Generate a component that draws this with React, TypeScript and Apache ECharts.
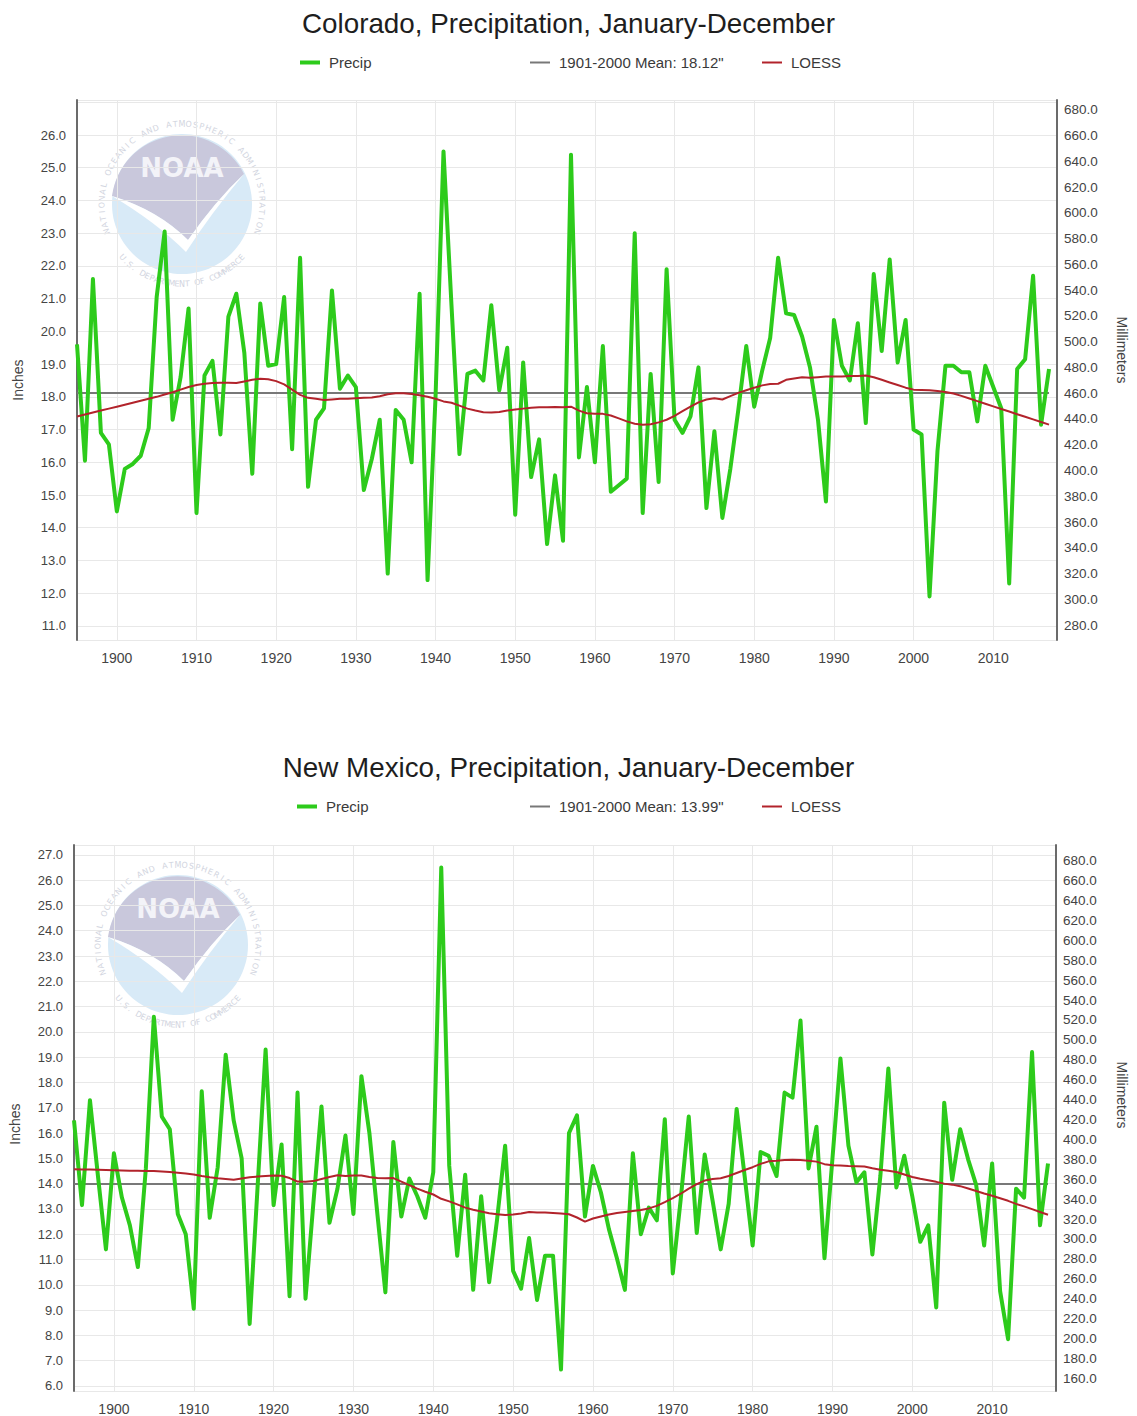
import React, { useEffect, useRef } from "react";
import * as echarts from "echarts";

// ---------- data ----------
const FIRST_YEAR = 1895;
const LAST_YEAR = 2017;
const years: number[] = [];
for (let y = FIRST_YEAR; y <= LAST_YEAR; y++) years.push(y);

const coTitle = "Colorado, Precipitation, January-December";
const nmTitle = "New Mexico, Precipitation, January-December";
const coMean = 18.12;
const nmMean = 13.99;
const coMeanName = '1901-2000 Mean: 18.12"';
const nmMeanName = '1901-2000 Mean: 13.99"';

const coPrecip = [
  19.6, 16.05, 21.6, 16.9, 16.55,
  14.5, 15.8, 15.95, 16.2, 17.05, 21.05, 23.05, 17.3, 18.6, 20.7,
  14.45, 18.65, 19.1, 16.85, 20.45, 21.15, 19.35, 15.65, 20.85, 18.95,
  19.0, 21.05, 16.4, 22.25, 15.25, 17.3, 17.65, 21.25, 18.25, 18.65,
  18.3, 15.15, 16.1, 17.3, 12.6, 17.6, 17.3, 16.0, 21.15, 12.4,
  18.0, 25.5, 20.8, 16.25, 18.7, 18.8, 18.5, 20.8, 18.2, 19.5,
  14.4, 19.05, 15.55, 16.7, 13.5, 15.6, 13.6, 25.4, 16.15, 18.3,
  16.0, 19.55, 15.1, 15.3, 15.5, 23.0, 14.45, 18.7, 15.4, 21.9,
  17.3, 16.9, 17.4, 18.9, 14.6, 16.95, 14.3, 15.8, 17.6, 19.55,
  17.7, 18.8, 19.8, 22.25, 20.55, 20.5, 19.85, 18.9, 17.3, 14.8,
  20.35, 18.95, 18.5, 20.25, 17.2, 21.75, 19.4, 22.2, 19.05, 20.35,
  17.0, 16.85, 11.9, 16.35, 18.95, 18.95, 18.75, 18.75, 17.25, 18.95,
  18.3, 17.65, 12.3, 18.85, 19.15, 21.7, 17.15, 18.85,
];

const coLoess = [
  17.4, 17.46, 17.52, 17.58, 17.64,
  17.7, 17.76, 17.82, 17.88, 17.94, 18.0, 18.07, 18.14, 18.22, 18.3,
  18.36, 18.4, 18.42, 18.43, 18.43, 18.42, 18.47, 18.52, 18.55, 18.54,
  18.48, 18.38, 18.22, 18.06, 17.97, 17.94, 17.9, 17.92, 17.94, 17.94,
  17.96, 17.97, 17.98, 18.02, 18.08, 18.11, 18.11, 18.09, 18.05, 18.0,
  17.94, 17.86, 17.82, 17.73, 17.64, 17.58, 17.53, 17.52, 17.54, 17.58,
  17.61, 17.64, 17.67, 17.68, 17.68, 17.69, 17.68, 17.7, 17.58, 17.5,
  17.48, 17.48, 17.43, 17.34, 17.25, 17.18, 17.15, 17.16, 17.22, 17.3,
  17.42, 17.56, 17.7, 17.83, 17.92, 17.96, 17.92, 18.02, 18.12, 18.2,
  18.28, 18.35, 18.39, 18.4, 18.52, 18.56, 18.6, 18.58, 18.6, 18.62,
  18.62, 18.62, 18.64, 18.64, 18.65, 18.6, 18.52, 18.44, 18.36, 18.28,
  18.22, 18.21, 18.2, 18.18, 18.15, 18.1, 18.03, 17.95, 17.87, 17.79,
  17.71, 17.63, 17.55, 17.47, 17.39, 17.31, 17.23, 17.15,
];

const nmPrecip = [
  16.5, 13.15, 17.3, 14.3, 11.4,
  15.2, 13.45, 12.35, 10.7, 14.6, 20.6, 16.65, 16.15, 12.8, 12.0,
  9.05, 17.65, 12.65, 14.65, 19.1, 16.5, 15.0, 8.45, 13.9, 19.3,
  13.15, 15.55, 9.55, 17.6, 9.45, 13.3, 17.05, 12.45, 13.8, 15.9,
  12.8, 18.25, 16.0, 12.8, 9.7, 15.65, 12.7, 14.2, 13.5, 12.65,
  14.45, 26.5, 14.7, 11.15, 14.35, 9.8, 13.5, 10.1, 12.6, 15.5,
  10.55, 9.85, 11.85, 9.4, 11.15, 11.15, 6.65, 16.0, 16.7, 12.7,
  14.7, 13.65, 12.2, 11.05, 9.8, 15.2, 12.0, 13.05, 12.55, 16.55,
  10.45, 13.4, 16.65, 12.05, 15.15, 13.3, 11.4, 13.2, 16.95, 14.3,
  11.55, 15.25, 15.1, 14.3, 17.6, 17.4, 20.45, 14.6, 16.25, 11.05,
  15.0, 18.95, 15.5, 14.05, 14.45, 11.2, 14.3, 18.55, 13.85, 15.1,
  13.5, 11.7, 12.35, 9.1, 17.2, 14.15, 16.15, 14.95, 13.95, 11.55,
  14.8, 9.75, 7.85, 13.8, 13.45, 19.2, 12.35, 14.8,
];

const nmLoess = [
  14.57, 14.56, 14.56, 14.55, 14.54,
  14.53, 14.52, 14.51, 14.51, 14.5, 14.5, 14.48, 14.46, 14.43, 14.4,
  14.36, 14.3, 14.25, 14.21, 14.18, 14.15, 14.2, 14.25, 14.28, 14.3,
  14.32, 14.31, 14.22, 14.08, 14.07, 14.1, 14.18, 14.26, 14.33, 14.3,
  14.32, 14.32, 14.26, 14.22, 14.21, 14.22, 14.08, 13.94, 13.8, 13.68,
  13.57, 13.4, 13.3, 13.18, 13.05, 12.97, 12.9, 12.83, 12.79, 12.76,
  12.78, 12.82, 12.88, 12.86, 12.86, 12.84, 12.82, 12.79, 12.66, 12.5,
  12.62, 12.7, 12.78, 12.84, 12.88, 12.92, 12.96, 13.02, 13.12, 13.27,
  13.43, 13.6, 13.8, 13.98, 14.12, 14.18, 14.21, 14.3, 14.42, 14.54,
  14.65, 14.78, 14.88, 14.9, 14.93, 14.94, 14.93, 14.9, 14.87, 14.77,
  14.73, 14.72, 14.7, 14.69, 14.68, 14.61, 14.55, 14.51, 14.46, 14.36,
  14.26, 14.19, 14.13, 14.07, 14.0, 13.96, 13.9, 13.81, 13.71, 13.61,
  13.52, 13.42, 13.32, 13.2, 13.1, 12.99, 12.88, 12.77,
];

// axis ranges (inches) and label limits
const coInchRange = [10.57, 27.07];
const coInchLabels = [11, 26];
const nmInchRange = [5.8, 27.39];
const nmInchLabels = [6, 27];
const xRange = [1895, 2018];
const MM_PER_INCH = 25.4;

// ---------- style ----------
const FONT = "'Liberation Sans', Arial, Helvetica, sans-serif";
const GREEN = "#2dcb1b";
const RED = "#b2232b";
const GRAY = "#787878";
const AXIS = "#6b6b6b";
const GRID = "#e8e8e8";
const LABEL = "#444444";

echarts.graphic.registerShape(
  "noaaTop",
  echarts.graphic.extendPath(
    "M -70 -8 A 70 70 0 0 1 62 -30 Q 34 -4 6 36 Q -24 6 -70 -8 Z",
    {}
  )
);
echarts.graphic.registerShape(
  "noaaBird",
  echarts.graphic.extendPath(
    "M -70 -8 Q -26 18 4 48 Q 30 8 62 -30 Q 34 -4 6 36 Q -24 6 -70 -8 Z",
    {}
  )
);

const RING_TOP = "NATIONAL OCEANIC AND ATMOSPHERIC ADMINISTRATION";
const RING_BOTTOM = "U.S. DEPARTMENT OF COMMERCE";

function ringChars(text: string, startDeg: number, endDeg: number, r: number, top: boolean) {
  const out: any[] = [];
  const n = text.length;
  for (let i = 0; i < n; i++) {
    const t = i / (n - 1);
    const th = ((startDeg + (endDeg - startDeg) * t) * Math.PI) / 180;
    out.push({
      type: "text",
      x: r * Math.cos(th),
      y: -r * Math.sin(th),
      rotation: top ? th - Math.PI / 2 : th + Math.PI / 2,
      style: {
        text: text[i],
        fill: "#d2d5e0",
        font: "8px 'DejaVu Sans', sans-serif",
        align: "center",
        verticalAlign: "middle",
      },
    });
  }
  return out;
}

function logo(cx: number, cy: number) {
  return {
    type: "group",
    x: cx,
    y: cy,
    z: -1,
    silent: true,
    children: [
      { type: "circle", shape: { cx: 0, cy: 0, r: 70 }, style: { fill: "#d8eaf7" } },
      { type: "noaaTop", style: { fill: "#c9c8dc" } },
      { type: "noaaBird", style: { fill: "#ffffff" } },
      {
        type: "text",
        x: 0,
        y: -36,
        style: {
          text: "NOAA",
          fill: "#f3f3f8",
          font: "bold 26px 'DejaVu Sans', sans-serif",
          align: "center",
          verticalAlign: "middle",
        },
      },
      ...ringChars(RING_TOP, 200, -20, 80, true),
      ...ringChars(RING_BOTTOM, 222, 318, 80, false),
    ],
  };
}

function isMultiple(v: number, step: number) {
  const q = v / step;
  return Math.abs(q - Math.round(q)) < 1e-6;
}

function yAxesFor(
  gi: number,
  range: number[],
  labels: number[],
  leftGap: number,
  rightGap: number,
  leftShift: number,
  rightShift: number
) {
  const nameStyle = { fontFamily: FONT, fontSize: 14, color: LABEL };
  return [
    {
      type: "value",
      gridIndex: gi,
      position: "left",
      min: range[0],
      max: range[1],
      minInterval: 1,
      maxInterval: 1,
      splitNumber: 20,
      axisLine: { show: true, lineStyle: { color: AXIS, width: 2 } },
      axisTick: { show: false },
      axisLabel: {
        formatter: (v: number) =>
          isMultiple(v, 1) && v >= labels[0] - 1e-6 && v <= labels[1] + 1e-6 ? v.toFixed(1) : "",
        color: LABEL,
        fontFamily: FONT,
        fontSize: 13,
        margin: 11,
      },
      splitLine: { show: true, lineStyle: { color: GRID, width: 1 } },
      name: "Inches",
      nameLocation: "middle",
      nameRotate: 90,
      nameGap: leftGap,
      nameTextStyle: { ...nameStyle, padding: [0, leftShift, 0, 0] },
    },
    {
      type: "value",
      gridIndex: gi,
      position: "right",
      min: range[0] * MM_PER_INCH,
      max: range[1] * MM_PER_INCH,
      minInterval: 20,
      maxInterval: 20,
      splitNumber: 20,
      axisLine: { show: true, lineStyle: { color: AXIS, width: 2 } },
      axisTick: { show: false },
      axisLabel: {
        formatter: (v: number) => (isMultiple(v, 20) ? v.toFixed(1) : ""),
        color: LABEL,
        fontFamily: FONT,
        fontSize: 13.5,
        margin: 7,
      },
      splitLine: { show: false },
      name: "Millimeters",
      nameLocation: "middle",
      nameRotate: -90,
      nameGap: rightGap,
      nameTextStyle: { ...nameStyle, padding: [0, rightShift, 0, 0] },
    },
  ];
}

function xAxisFor(gi: number) {
  return {
    type: "value",
    gridIndex: gi,
    min: xRange[0],
    max: xRange[1],
    minInterval: 10,
    maxInterval: 10,
    splitNumber: 12,
    axisLine: { show: false },
    axisTick: { show: false },
    axisLabel: {
      formatter: (v: number) => (isMultiple(v, 10) ? String(v) : ""),
      color: LABEL,
      fontFamily: FONT,
      fontSize: 14,
      margin: 11,
    },
    splitLine: { show: true, lineStyle: { color: GRID, width: 1 } },
  };
}

function seriesFor(gi: number, precip: number[], loess: number[], mean: number, meanName: string) {
  return [
    {
      type: "line",
      name: "Precip",
      xAxisIndex: gi,
      yAxisIndex: gi * 2,
      data: years.map((y, i) => [y, precip[i]]),
      symbol: "none",
      color: GREEN,
      lineStyle: { color: GREEN, width: 4, join: "round" },
      z: 3,
    },
    {
      type: "line",
      name: meanName,
      xAxisIndex: gi,
      yAxisIndex: gi * 2,
      data: [
        [years[0], mean],
        [years[years.length - 1], mean],
      ],
      symbol: "none",
      color: GRAY,
      lineStyle: { color: GRAY, width: 2 },
      z: 2,
    },
    {
      type: "line",
      name: "LOESS",
      xAxisIndex: gi,
      yAxisIndex: gi * 2,
      data: years.map((y, i) => [y, loess[i]]),
      symbol: "none",
      color: RED,
      lineStyle: { color: RED, width: 2 },
      z: 4,
    },
  ];
}

function legendItem(name: string, left: number, top: number, h: number) {
  return {
    data: [name],
    left,
    top,
    padding: 0,
    icon: "rect",
    itemWidth: 20,
    itemHeight: h,
    itemGap: 0,
    selectedMode: false,
    textStyle: { fontFamily: FONT, fontSize: 15, color: "#3a3a3a", padding: [0, 0, 0, 4] },
  };
}

function buildOption() {
  const titleStyle = { fontFamily: FONT, fontSize: 27.8, fontWeight: "normal", color: "#1e1e1e" };
  return {
    animation: false,
    backgroundColor: "#ffffff",
    title: [
      { text: coTitle, left: "center", top: 4, textStyle: titleStyle },
      { text: nmTitle, left: "center", top: 748, textStyle: titleStyle },
    ],
    legend: [
      legendItem("Precip", 300, 55, 4),
      legendItem(coMeanName, 530, 55, 2),
      legendItem("LOESS", 762, 55, 2),
      legendItem("Precip", 297, 799, 4),
      legendItem(nmMeanName, 530, 799, 2),
      legendItem("LOESS", 762, 799, 2),
    ],
    grid: [
      { left: 77, top: 100, width: 980, height: 540 },
      { left: 73, top: 845, width: 989, height: 548 },
    ],
    xAxis: [xAxisFor(0), xAxisFor(1)],
    yAxis: [
      ...yAxesFor(0, coInchRange, coInchLabels, 52, 58, 20, 40),
      ...yAxesFor(1, nmInchRange, nmInchLabels, 52, 59, 12, 46),
    ],
    graphic: [logo(182, 204), logo(178, 945)],
    series: [
      ...seriesFor(0, coPrecip, coLoess, coMean, coMeanName),
      ...seriesFor(1, nmPrecip, nmLoess, nmMean, nmMeanName),
    ],
  };
}

export default function App() {
  const ref = useRef<HTMLDivElement>(null);
  useEffect(() => {
    if (!ref.current) return;
    const chart = echarts.init(ref.current, null, { renderer: "svg" });
    chart.setOption(buildOption() as any);
    return () => chart.dispose();
  }, []);
  return (
    <div
      ref={ref}
      style={{ position: "absolute", left: 0, top: 0, width: 1137, height: 1416, background: "#fff" }}
    />
  );
}
